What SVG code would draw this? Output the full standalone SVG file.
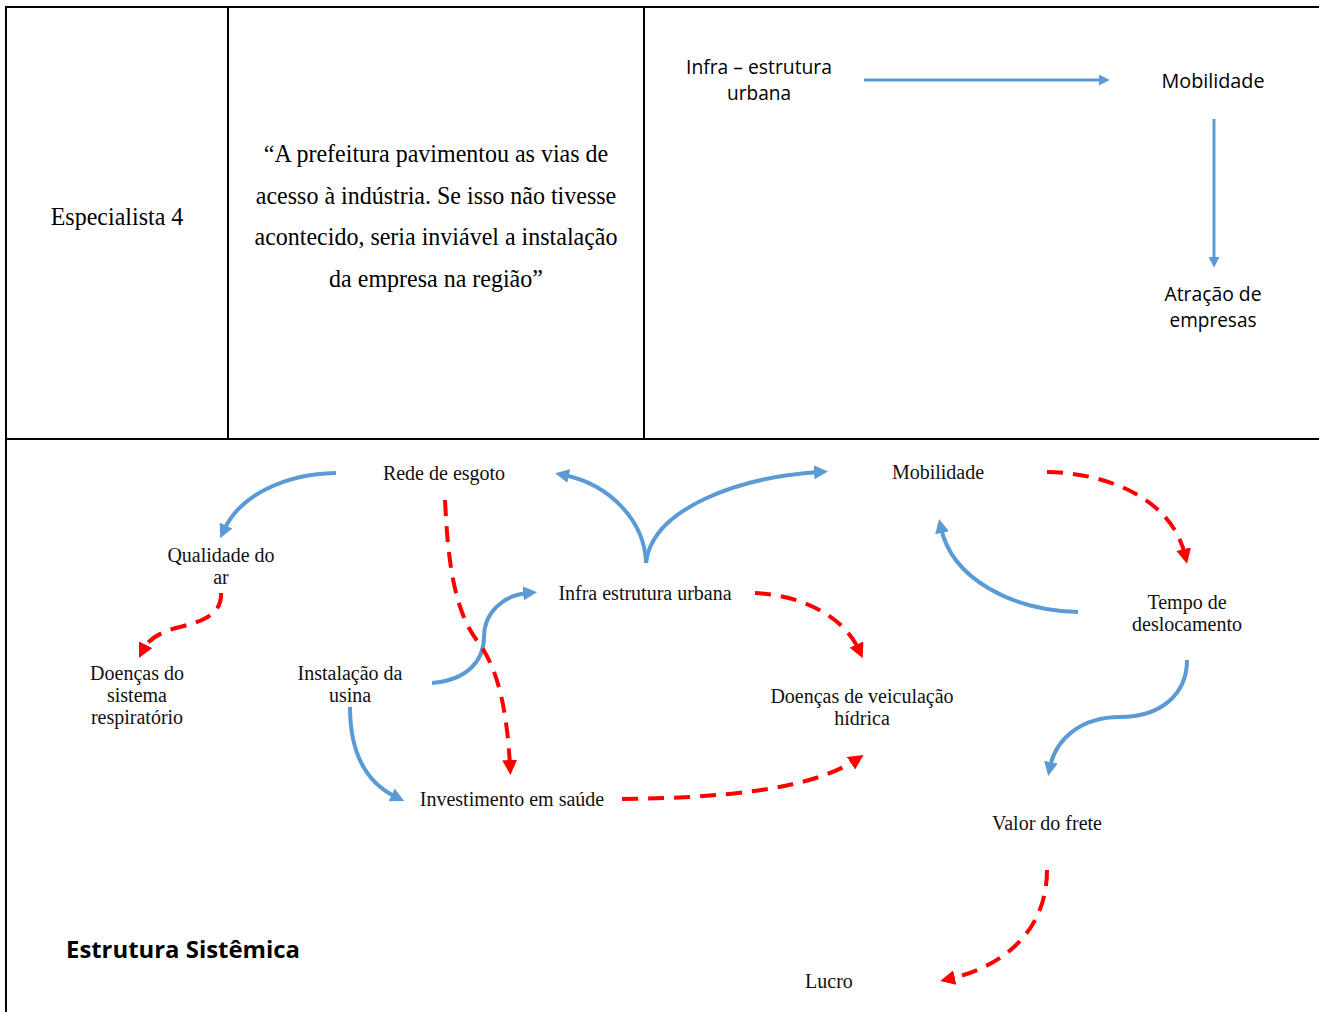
<svg xmlns="http://www.w3.org/2000/svg" width="1319" height="1012" viewBox="0 0 1319 1012">
  <style>
    .grid { stroke: #000; stroke-width: 2; fill: none; }
    .serif-lg { font-family: "Liberation Serif", "Times New Roman", serif; font-size: 24px; fill: #000; text-anchor: middle; }
    .sans { font-family: "Open Sans", "Noto Sans", sans-serif; font-size: 20px; fill: #000; text-anchor: middle; }
    .node { font-family: "Liberation Serif", "Times New Roman", serif; font-size: 20px; fill: #111; text-anchor: middle; }
    .title { font-family: "Open Sans", "Noto Sans", sans-serif; font-size: 24px; font-weight: bold; fill: #000; }
    .pos { stroke: #5B9BD5; stroke-width: 4; fill: none; marker-end: url(#head-blue); }
    .neg { stroke: #FF0000; stroke-width: 4; fill: none; stroke-dasharray: 16 10; marker-end: url(#head-red); }
    .simple { stroke: #5B9BD5; stroke-width: 3; fill: none; marker-end: url(#head-small); }
  </style>
  <defs>
    <marker id="head-blue" viewBox="0 0 10 10" markerUnits="userSpaceOnUse" markerWidth="14" markerHeight="14" refX="3.5" refY="5" orient="auto">
      <path d="M0,0 L10,5 L0,10 z" fill="#5B9BD5"/>
    </marker>
    <marker id="head-red" viewBox="0 0 10 10" markerUnits="userSpaceOnUse" markerWidth="15" markerHeight="15" refX="4" refY="5" orient="auto">
      <path d="M0,0 L10,5 L0,10 z" fill="#FF0000"/>
    </marker>
    <marker id="head-small" viewBox="0 0 10 10" markerUnits="userSpaceOnUse" markerWidth="11" markerHeight="11" refX="2" refY="5" orient="auto">
      <path d="M0,0 L10,5 L0,10 z" fill="#5B9BD5"/>
    </marker>
  </defs>

  <rect width="1319" height="1012" fill="#fff"/>

  <!-- table frame -->
  <g id="table">
    <line class="grid" x1="5" y1="7" x2="1319" y2="7"/>
    <line class="grid" x1="6" y1="6" x2="6" y2="1012"/>
    <line class="grid" x1="228" y1="7" x2="228" y2="439"/>
    <line class="grid" x1="644" y1="7" x2="644" y2="439"/>
    <line class="grid" x1="6" y1="439" x2="1319" y2="439"/>
  </g>

  <!-- header row -->
  <g id="especialista">
    <text class="serif-lg" transform="translate(117,225) scale(1,1.07)">Especialista 4</text>
  </g>
  <g id="citacao">
    <text class="serif-lg" transform="translate(436,162) scale(1,1.07)">“A prefeitura pavimentou as vias de</text>
    <text class="serif-lg" transform="translate(436,204) scale(1,1.07)">acesso à indústria. Se isso não tivesse</text>
    <text class="serif-lg" transform="translate(436,245) scale(1,1.07)">acontecido, seria inviável a instalação</text>
    <text class="serif-lg" transform="translate(436,287) scale(1,1.07)">da empresa na região”</text>
  </g>
  <g id="t-infra">
    <text class="sans" x="759" y="74" textLength="146" lengthAdjust="spacingAndGlyphs">Infra – estrutura</text>
    <text class="sans" x="759" y="100" textLength="64" lengthAdjust="spacingAndGlyphs">urbana</text>
  </g>
  <g id="t-mobilidade">
    <text class="sans" x="1213" y="88" textLength="103" lengthAdjust="spacingAndGlyphs">Mobilidade</text>
  </g>
  <g id="t-atracao">
    <text class="sans" x="1213" y="301" textLength="97" lengthAdjust="spacingAndGlyphs">Atração de</text>
    <text class="sans" x="1213" y="327" textLength="87" lengthAdjust="spacingAndGlyphs">empresas</text>
  </g>

  <!-- system structure nodes -->
  <g id="n-rede"><text class="node" x="444" y="480">Rede de esgoto</text></g>
  <g id="n-mobilidade"><text class="node" x="938" y="479">Mobilidade</text></g>
  <g id="n-qualidade">
    <text class="node" x="221" y="562">Qualidade do</text>
    <text class="node" x="221" y="584">ar</text>
  </g>
  <g id="n-infra"><text class="node" x="645" y="600">Infra estrutura urbana</text></g>
  <g id="n-tempo">
    <text class="node" x="1187" y="609">Tempo de</text>
    <text class="node" x="1187" y="631">deslocamento</text>
  </g>
  <g id="n-doencas-resp">
    <text class="node" x="137" y="680">Doenças do</text>
    <text class="node" x="137" y="702">sistema</text>
    <text class="node" x="137" y="724">respiratório</text>
  </g>
  <g id="n-usina">
    <text class="node" x="350" y="680">Instalação da</text>
    <text class="node" x="350" y="702">usina</text>
  </g>
  <g id="n-doencas-hid">
    <text class="node" x="862" y="703">Doenças de veiculação</text>
    <text class="node" x="862" y="725">hídrica</text>
  </g>
  <g id="n-investimento"><text class="node" x="512" y="806">Investimento em saúde</text></g>
  <g id="n-frete"><text class="node" x="1047" y="830">Valor do frete</text></g>
  <g id="n-lucro"><text class="node" x="829" y="988">Lucro</text></g>

  <g id="caption">
    <text class="title" x="66" y="958" textLength="234" lengthAdjust="spacingAndGlyphs">Estrutura Sistêmica</text>
  </g>

  <!-- connectors -->
  <g id="connectors">
    <line class="simple" x1="864" y1="80" x2="1101" y2="80"/>
    <line class="simple" x1="1214" y1="119" x2="1214" y2="259"/>

    <path class="pos" d="M336,473 C285,474 240,495 224,530"/>
    <path class="neg" d="M221,593 C222,616 200,622 176,628 C158,633 148,640 143,650"/>
    <path class="pos" d="M432,683 C468,680 484,660 484,637 C484,612 504,595 528,593"/>
    <path class="neg" d="M445,500 C448,565 455,612 478,642 C498,668 507,710 510,766"/>
    <path class="pos" d="M350,707 C350,752 365,782 396,797"/>
    <path class="neg" d="M622,799 C720,798 810,790 856,760"/>
    <path class="pos" d="M646,563 C645,523 612,485 564,475"/>
    <path class="pos" d="M646,563 C652,508 740,477 819,472"/>
    <path class="neg" d="M755,593 C800,595 843,615 859,650"/>
    <path class="neg" d="M1047,472 C1110,473 1172,500 1185,555"/>
    <path class="pos" d="M1078,612 C1010,610 952,578 941,528"/>
    <path class="pos" d="M1187,660 C1187,695 1160,717 1120,717 C1082,717 1056,738 1050,767"/>
    <path class="neg" d="M1047,870 C1047,932 1002,967 949,979"/>
  </g>
</svg>
